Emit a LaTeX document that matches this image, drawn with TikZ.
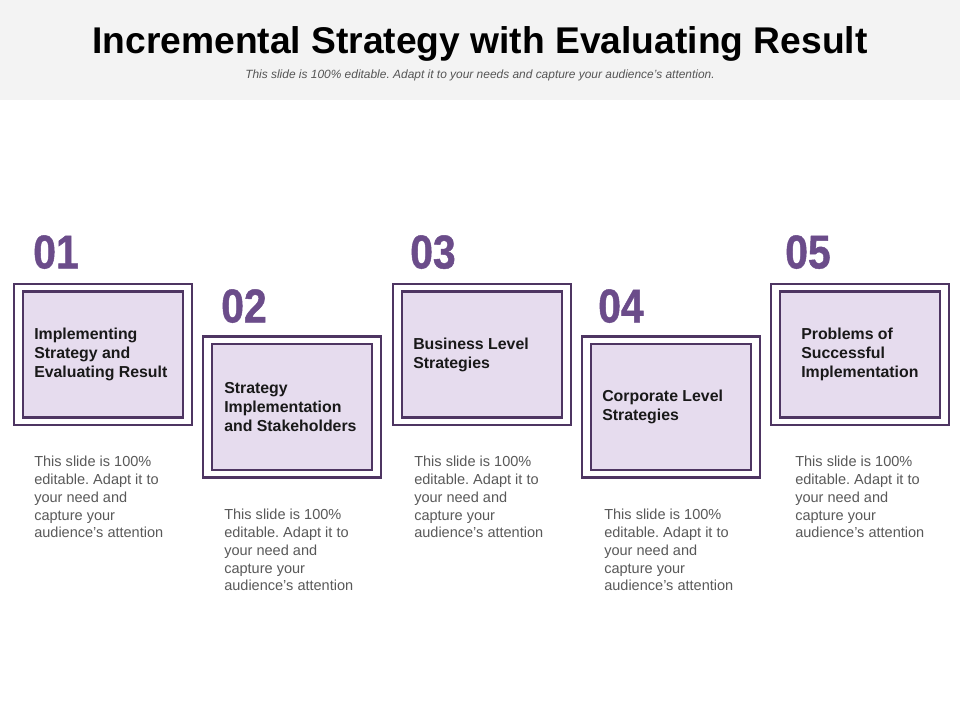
\documentclass[tikz,border=0pt]{standalone}
\usepackage{fontspec}
\setmainfont{Liberation Sans}
\newfontfamily\numfont[FakeStretch=0.86,FakeBold=1]{Liberation Sans Bold}
\definecolor{numpurple}{HTML}{6B4C8A}
\definecolor{brd}{HTML}{4E3562}
\definecolor{fillp}{HTML}{E6DCEE}
\definecolor{band}{HTML}{F3F3F3}
\definecolor{desc}{HTML}{595959}
\definecolor{subt}{HTML}{555555}
\frenchspacing
\begin{document}
\begin{tikzpicture}[x=0.75pt,y=-0.75pt,
 outerbox/.style={draw=brd,line width=2pt,fill=white,minimum width=133.5pt,minimum height=105.75pt,inner sep=0},
 innerbox/.style={draw=brd,line width=2.2pt,fill=fillp,minimum width=120pt,minimum height=94.5pt,inner sep=0},
 numlabel/.style={anchor=north west,inner sep=0,text=numpurple,font=\numfont\fontsize{35.6pt}{36pt}\selectfont},
 boxtext/.style={anchor=west,inner sep=0,align=left,text=black!90,font=\bfseries\fontsize{11.9pt}{14.25pt}\selectfont},
 desctext/.style={anchor=north west,inner sep=0,align=left,text=desc,font=\fontsize{10.9pt}{13.3pt}\selectfont},
 titletext/.style={anchor=base,inner sep=0,font=\bfseries\fontsize{27.9pt}{30pt}\selectfont},
 subtext/.style={anchor=base,inner sep=0,text=subt,font=\itshape\fontsize{8.95pt}{10pt}\selectfont}]

\useasboundingbox (0,0) rectangle (960,720);
\fill[white] (0,0) rectangle (960,720);
\fill[band] (0,0) rectangle (960,100);

\node[titletext] (title) at (480,53.5) {Incremental Strategy with Evaluating Result};
\node[subtext] (sub) at (480,79) {This slide is 100\% editable. Adapt it to your needs and capture your audience’s attention.};

% boxes
\node[outerbox] (o1) at (103,354.5) {};
\node[innerbox] (i1) at (o1.center) {};
\node[outerbox] (o2) at (292,407) {};
\node[innerbox] (i2) at (o2.center) {};
\node[outerbox] (o3) at (482,354.5) {};
\node[innerbox] (i3) at (o3.center) {};
\node[outerbox] (o4) at (671,407) {};
\node[innerbox] (i4) at (o4.center) {};
\node[outerbox] (o5) at (860,354.5) {};
\node[innerbox] (i5) at (o5.center) {};

% box texts
\node[boxtext] (t1) at (34,354.5) {Implementing\\Strategy and\\Evaluating Result};
\node[boxtext] (t2) at (224,407) {Strategy\\Implementation\\and Stakeholders};
\node[boxtext] (t3) at (413,354.5) {Business Level\\Strategies};
\node[boxtext] (t4) at (602,407) {Corporate Level\\Strategies};
\node[boxtext] (t5) at (801,354.5) {Problems of\\Successful\\Implementation};

% numbers
\node[numlabel] (n1) at (33,235) {01};
\node[numlabel] (n2) at (221,289) {02};
\node[numlabel] (n3) at (410,235) {03};
\node[numlabel] (n4) at (598,289) {04};
\node[numlabel] (n5) at (785,235) {05};

% descriptions
\node[desctext] (d1) at (34,456) {This slide is 100\%\\editable. Adapt it to\\your need and\\capture your\\audience’s attention};
\node[desctext] (d2) at (224,509) {This slide is 100\%\\editable. Adapt it to\\your need and\\capture your\\audience’s attention};
\node[desctext] (d3) at (414,456) {This slide is 100\%\\editable. Adapt it to\\your need and\\capture your\\audience’s attention};
\node[desctext] (d4) at (604,509) {This slide is 100\%\\editable. Adapt it to\\your need and\\capture your\\audience’s attention};
\node[desctext] (d5) at (795,456) {This slide is 100\%\\editable. Adapt it to\\your need and\\capture your\\audience’s attention};
\end{tikzpicture}
\end{document}
